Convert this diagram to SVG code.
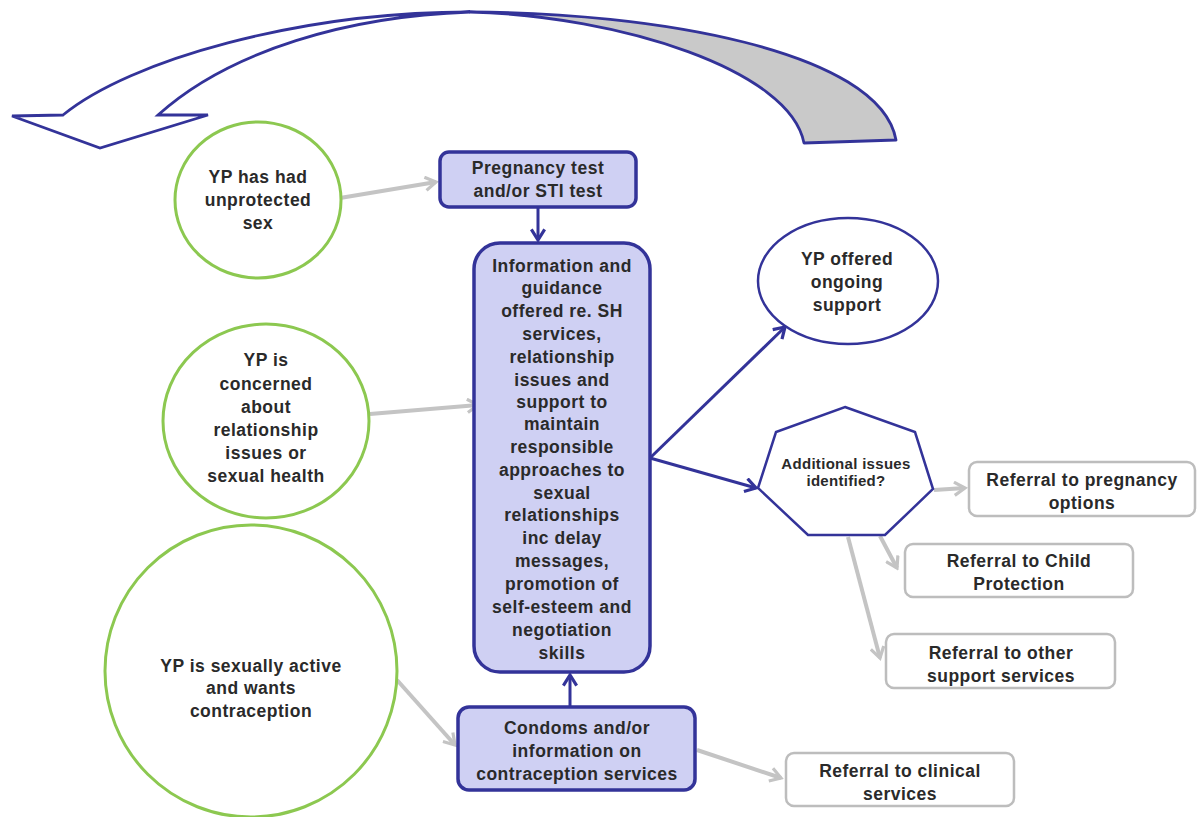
<svg xmlns="http://www.w3.org/2000/svg" width="1200" height="817" viewBox="0 0 1200 817">
<defs>
<style>
text{font-family:"Liberation Sans",Arial,sans-serif;font-weight:bold;font-size:17.5px;letter-spacing:0.5px;fill:#2a2a2a;text-anchor:middle}
.h{font-size:15px;letter-spacing:0.3px}
.g{fill:#fff;stroke:#8cc850;stroke-width:3}
.b{fill:#cfd0f3;stroke:#333399;stroke-width:3.5}
.w{fill:#fff;stroke:#333399;stroke-width:2.5}
.r{fill:#fff;stroke:#bdbdbd;stroke-width:2.5}
.cg{fill:none;stroke:#c4c4c4;stroke-width:4}
.cn{fill:none;stroke:#333399;stroke-width:3}
</style>
<marker id="ag" viewBox="0 0 12 12" refX="10" refY="6" markerWidth="16" markerHeight="16" markerUnits="userSpaceOnUse" orient="auto"><path d="M2,1 L10,6 L2,11" fill="none" stroke="#c4c4c4" stroke-width="2.4"/></marker>
<marker id="an" viewBox="0 0 12 12" refX="10" refY="6" markerWidth="16" markerHeight="16" markerUnits="userSpaceOnUse" orient="auto"><path d="M2,1 L10,6 L2,11" fill="none" stroke="#333399" stroke-width="2.4"/></marker>
</defs>
<rect width="1200" height="817" fill="#fff"/>
<g id="loop-arrow">
<path d="M470,12 C650,12 880,50 896,140 L804,143 C790,70 620,16 470,12 Z" fill="#c9c9c9" stroke="#333399" stroke-width="2.8" stroke-linejoin="round"/>
<path d="M470,12 C300,12 130,60 63,115 L12,116 L100,148 L208,115 L158,115 C230,50 350,16 470,12 Z" fill="#fff" stroke="#333399" stroke-width="2.8" stroke-linejoin="miter"/>
</g>
<g id="connectors">
<line class="cg" x1="340" y1="198" x2="436" y2="182" marker-end="url(#ag)"/>
<line class="cn" x1="538" y1="207" x2="538" y2="240" marker-end="url(#an)"/>
<line class="cg" x1="370" y1="414" x2="478" y2="405" marker-end="url(#ag)"/>
<line class="cg" x1="397" y1="680" x2="455" y2="745" marker-end="url(#ag)"/>
<line class="cn" x1="570" y1="707" x2="570" y2="675" marker-end="url(#an)"/>
<line class="cg" x1="697" y1="750" x2="781" y2="778" marker-end="url(#ag)"/>
<line class="cn" x1="650" y1="458" x2="785" y2="327" marker-end="url(#an)"/>
<line class="cn" x1="650" y1="458" x2="756" y2="488" marker-end="url(#an)"/>
<line class="cg" x1="934" y1="490" x2="965" y2="488" marker-end="url(#ag)"/>
<line class="cg" x1="880" y1="536" x2="897" y2="568" marker-end="url(#ag)"/>
<line class="cg" x1="848" y1="537" x2="880" y2="658" marker-end="url(#ag)"/>
</g>
<g id="n-unprotected">
<ellipse class="g" cx="258" cy="200" rx="83" ry="78"/>
<text x="258" y="183">YP has had</text><text x="258" y="206">unprotected</text><text x="258" y="229">sex</text>
</g>
<g id="n-concerned">
<ellipse class="g" cx="266" cy="421" rx="103" ry="97"/>
<text x="266" y="366">YP is</text><text x="266" y="390">concerned</text><text x="266" y="413">about</text><text x="266" y="436">relationship</text><text x="266" y="459">issues or</text><text x="266" y="482">sexual health</text>
</g>
<g id="n-active">
<ellipse class="g" cx="251" cy="671" rx="146" ry="146"/>
<text x="251" y="672">YP is sexually active</text><text x="251" y="694">and wants</text><text x="251" y="717">contraception</text>
</g>
<g id="n-test">
<rect class="b" x="440" y="152" width="196" height="55" rx="9"/>
<text x="538" y="174">Pregnancy test</text><text x="538" y="197">and/or STI test</text>
</g>
<g id="n-info">
<rect class="b" x="474" y="243" width="176" height="429" rx="26"/>
<text x="562" y="272">Information and</text><text x="562" y="294">guidance</text><text x="562" y="317">offered re. SH</text><text x="562" y="340">services,</text><text x="562" y="363">relationship</text><text x="562" y="386">issues and</text><text x="562" y="408">support to</text><text x="562" y="430">maintain</text><text x="562" y="453">responsible</text><text x="562" y="476">approaches to</text><text x="562" y="499">sexual</text><text x="562" y="521">relationships</text><text x="562" y="544">inc delay</text><text x="562" y="567">messages,</text><text x="562" y="590">promotion of</text><text x="562" y="613">self-esteem and</text><text x="562" y="636">negotiation</text><text x="562" y="659">skills</text>
</g>
<g id="n-condoms">
<rect class="b" x="458" y="707" width="237" height="83" rx="11"/>
<text x="577" y="734">Condoms and/or</text><text x="577" y="757">information on</text><text x="577" y="780">contraception services</text>
</g>
<g id="n-ongoing">
<ellipse class="w" cx="848" cy="281" rx="90" ry="63"/>
<text x="847" y="265">YP offered</text><text x="847" y="288">ongoing</text><text x="847" y="311">support</text>
</g>
<g id="n-additional">
<polygon class="w" points="845,407 915,432 933,489 885,535 808,535 758,488 776,432"/>
<text class="h" x="846" y="469">Additional issues</text><text class="h" x="846" y="486">identified?</text>
</g>
<g id="n-pregnancy">
<rect class="r" x="969" y="462" width="226" height="54" rx="8"/>
<text x="1082" y="486">Referral to pregnancy</text><text x="1082" y="509">options</text>
</g>
<g id="n-child">
<rect class="r" x="905" y="544" width="228" height="53" rx="8"/>
<text x="1019" y="567">Referral to Child</text><text x="1019" y="590">Protection</text>
</g>
<g id="n-other">
<rect class="r" x="886" y="634" width="229" height="54" rx="8"/>
<text x="1001" y="659">Referral to other</text><text x="1001" y="682">support services</text>
</g>
<g id="n-clinical">
<rect class="r" x="786" y="753" width="228" height="53" rx="8"/>
<text x="900" y="777">Referral to clinical</text><text x="900" y="800">services</text>
</g>
</svg>
